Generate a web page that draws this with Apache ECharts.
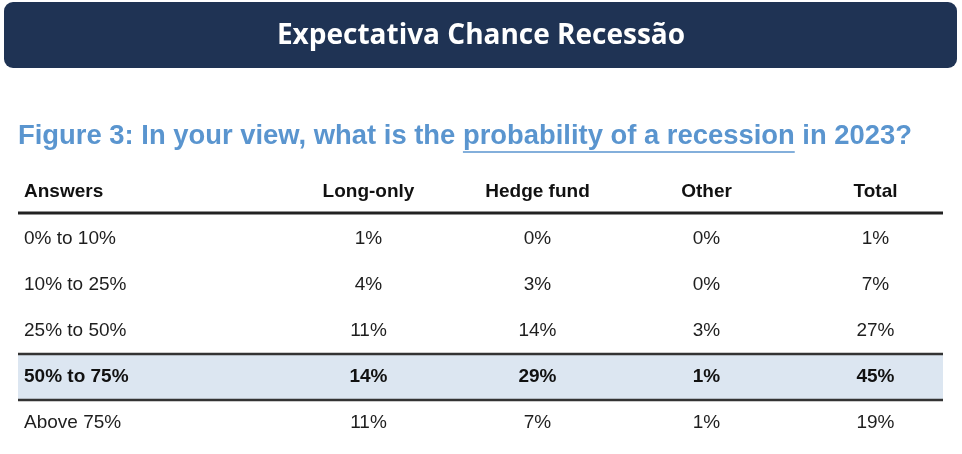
<!DOCTYPE html>
<html>
<head>
<meta charset="utf-8">
<script src="https://cdn.jsdelivr.net/npm/echarts@6/dist/echarts.min.js"></script>
<style>
  html, body { margin: 0; padding: 0; background: #fff; }
  #main { width: 962px; height: 454px; }
</style>
</head>
<body>
<div id="main"></div>
<script>
const answers = ['0% to 10%', '10% to 25%', '25% to 50%', '50% to 75%', 'Above 75%'];
const columns = ['Long-only', 'Hedge fund', 'Other', 'Total'];
const longOnly = [1, 4, 11, 14, 11];
const hedgeFund = [0, 3, 14, 29, 7];
const other = [0, 0, 3, 1, 1];
const total = [1, 7, 27, 45, 19];
const highlightRow = '50% to 75%';

const bannerTitle = 'Expectativa Chance Recessão';
const figPrefix = 'Figure 3: In your view, what is the ';
const figUnderlined = 'probability of a recession';
const figSuffix = ' in 2023?';

const FONT = '"Liberation Sans", Arial, sans-serif';
const chart = echarts.init(document.getElementById('main'));

// one point per cell: [column, row, value]
const values = [longOnly, hedgeFund, other, total];
const cells = [];
values.forEach((col, c) => {
  col.forEach((v, r) => {
    const bold = answers[r] === highlightRow;
    cells.push({
      value: [c, r, v],
      label: bold ? { fontWeight: 'bold', color: '#111' } : {}
    });
  });
});

chart.setOption({
  backgroundColor: '#fff',
  animation: false,
  grid: { left: 284, right: 2, top: 216, height: 230 },
  xAxis: {
    type: 'category',
    position: 'top',
    data: columns,
    axisLine: { show: false },
    axisTick: { show: false },
    splitLine: { show: false },
    axisLabel: {
      margin: 24,
      verticalAlign: 'middle',
      fontFamily: FONT,
      fontSize: 19,
      fontWeight: 'bold',
      color: '#111'
    }
  },
  yAxis: {
    type: 'category',
    inverse: true,
    data: answers,
    axisLine: { show: false },
    axisTick: { show: false },
    splitLine: { show: false },
    axisLabel: {
      align: 'left',
      margin: 260,
      fontFamily: FONT,
      fontSize: 19,
      formatter: (v) => (v === highlightRow ? '{b|' + v + '}' : '{n|' + v + '}'),
      rich: {
        n: { fontFamily: FONT, fontSize: 19, color: '#1e1e1e' },
        b: { fontFamily: FONT, fontSize: 19, color: '#111', fontWeight: 'bold' }
      }
    }
  },
  series: [{
    type: 'scatter',
    symbolSize: 1,
    itemStyle: { color: 'rgba(0,0,0,0)', opacity: 1 },
    data: cells,
    z: 5,
    label: {
      show: true,
      position: 'inside',
      color: '#1e1e1e',
      fontFamily: FONT,
      fontSize: 19,
      formatter: (p) => p.value[2] + '%'
    }
  }]
});

// highlight band + rules, placed from the axis scale
const yc = chart.convertToPixel({ yAxisIndex: 0 }, highlightRow);
const band = 46;
const bandTop = yc - band / 2;
const bandBottom = yc + band / 2;

// underline position for the emphasised phrase
const subFont = 'bold 27.4px ' + FONT;
const ctx = document.createElement('canvas').getContext('2d');
ctx.font = subFont;
const ulStart = 18 + ctx.measureText(figPrefix).width;
const ulEnd = ulStart + ctx.measureText(figUnderlined).width;

chart.setOption({
  graphic: [
    {
      type: 'rect',
      shape: { x: 4, y: 2, width: 953, height: 66, r: 9 },
      style: { fill: '#1f3354' }
    },
    {
      type: 'text',
      x: 481, y: 36,
      style: {
        text: bannerTitle,
        fill: '#fff',
        font: 'bold 28px "Open Sans", "Noto Sans", sans-serif',
        textAlign: 'center',
        textVerticalAlign: 'middle'
      }
    },
    {
      type: 'text',
      x: 18, y: 136,
      style: {
        text: figPrefix + figUnderlined + figSuffix,
        fill: '#5a95cf',
        font: subFont,
        textAlign: 'left',
        textVerticalAlign: 'middle'
      }
    },
    {
      type: 'line',
      shape: { x1: ulStart, y1: 152, x2: ulEnd, y2: 152 },
      style: { stroke: '#5a95cf', lineWidth: 1.5 }
    },
    {
      type: 'text',
      x: 24, y: 192,
      style: {
        text: 'Answers',
        fill: '#111',
        font: 'bold 19px ' + FONT,
        textAlign: 'left',
        textVerticalAlign: 'middle'
      }
    },
    {
      type: 'line',
      shape: { x1: 18, y1: 213, x2: 943, y2: 213 },
      style: { stroke: '#222', lineWidth: 3 }
    },
    {
      type: 'rect',
      z: -1,
      shape: { x: 18, y: bandTop, width: 925, height: band },
      style: { fill: '#dce6f1' }
    },
    {
      type: 'line',
      shape: { x1: 18, y1: bandTop, x2: 943, y2: bandTop },
      style: { stroke: '#333', lineWidth: 2.5 }
    },
    {
      type: 'line',
      shape: { x1: 18, y1: bandBottom, x2: 943, y2: bandBottom },
      style: { stroke: '#333', lineWidth: 2.5 }
    }
  ]
});
</script>
</body>
</html>
